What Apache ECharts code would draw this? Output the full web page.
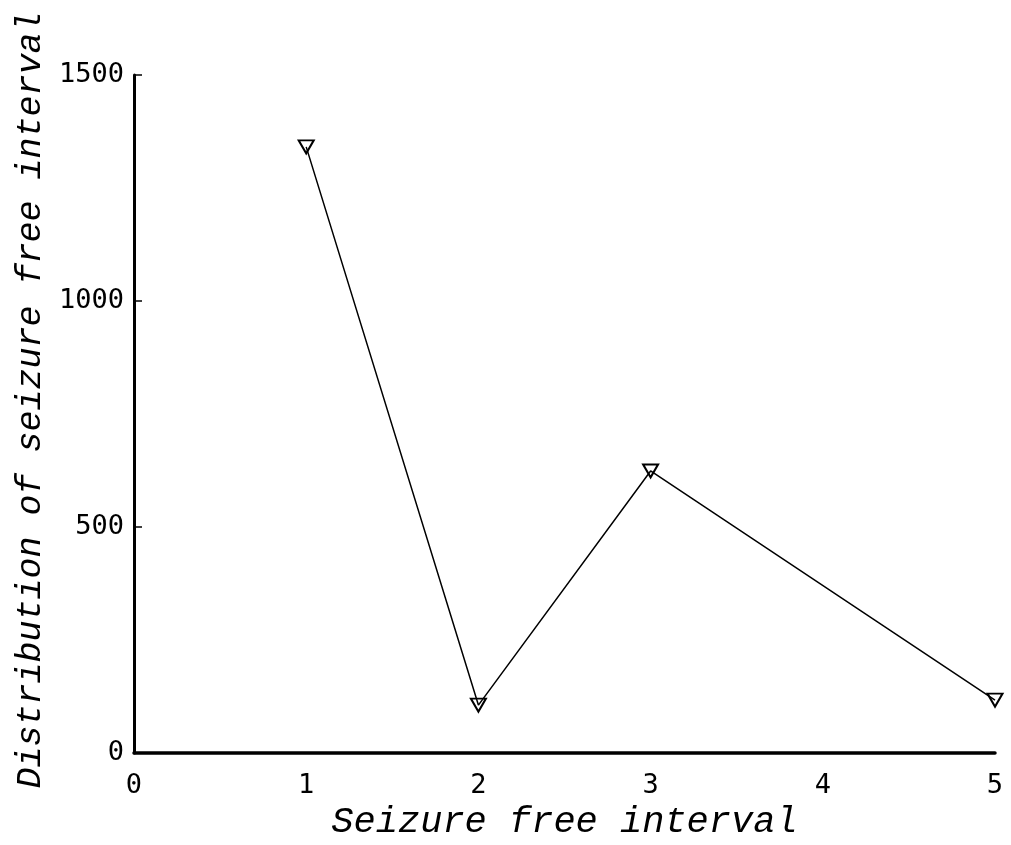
<!DOCTYPE html>
<html>
<head>
<meta charset="utf-8">
<script src="https://cdn.jsdelivr.net/npm/echarts@6/dist/echarts.min.js"></script>
<style>
  html, body { margin: 0; padding: 0; background: #fff; }
  #chart { width: 1011px; height: 845px; }
</style>
</head>
<body>
<div id="chart"></div>
<script>
// Seizure free interval (x) against its distribution (y)
const intervals = [1, 2, 3, 5];
const distribution = [1341, 106, 624, 117];
const xTicks = [0, 1, 2, 3, 4, 5];
const yTicks = [0, 500, 1000, 1500];

const points = intervals.map((x, i) => [x, distribution[i]]);

const chart = echarts.init(document.getElementById('chart'), null, { renderer: 'canvas' });

const tickFont = { fontFamily: 'DejaVu Sans Mono', fontSize: 27, color: '#000' };
const titleFont = { fontFamily: 'Liberation Mono', fontStyle: 'italic', color: '#000' };

chart.setOption({
  animation: false,
  backgroundColor: '#fff',
  grid: { left: 134, right: 16, top: 75, bottom: 92, containLabel: false, outerBoundsMode: 'none' },
  xAxis: {
    type: 'value',
    min: xTicks[0],
    max: xTicks[xTicks.length - 1],
    interval: 1,
    name: 'Seizure free interval',
    nameLocation: 'middle',
    nameGap: 50,
    nameTextStyle: { ...titleFont, fontSize: 37 },
    axisLine: { show: true, lineStyle: { color: '#000', width: 3.5 } },
    axisTick: { show: false },
    splitLine: { show: false },
    axisLabel: { ...tickFont, margin: 19, formatter: v => String(v) }
  },
  yAxis: {
    type: 'value',
    min: yTicks[0],
    max: yTicks[yTicks.length - 1],
    interval: 500,
    name: 'Distribution of seizure free interval',
    nameLocation: 'middle',
    nameGap: 86,
    nameRotate: 90,
    nameTextStyle: { ...titleFont, fontSize: 35, padding: [0, 0, 0, 28] },
    axisLine: { show: true, lineStyle: { color: '#000', width: 3 } },
    axisTick: { show: true, inside: true, length: 8, lineStyle: { color: '#000', width: 1.5 } },
    splitLine: { show: false },
    axisLabel: { ...tickFont, margin: 10, formatter: v => String(v) }
  },
  series: [{
    type: 'line',
    data: points,
    symbol: 'triangle',
    symbolRotate: 180,
    symbolSize: [15, 13],
    showAllSymbol: true,
    lineStyle: { color: '#000', width: 1.5 },
    itemStyle: { color: 'rgba(255,255,255,0)', borderColor: '#000', borderWidth: 2 },
    z: 3
  }]
});
</script>
</body>
</html>
